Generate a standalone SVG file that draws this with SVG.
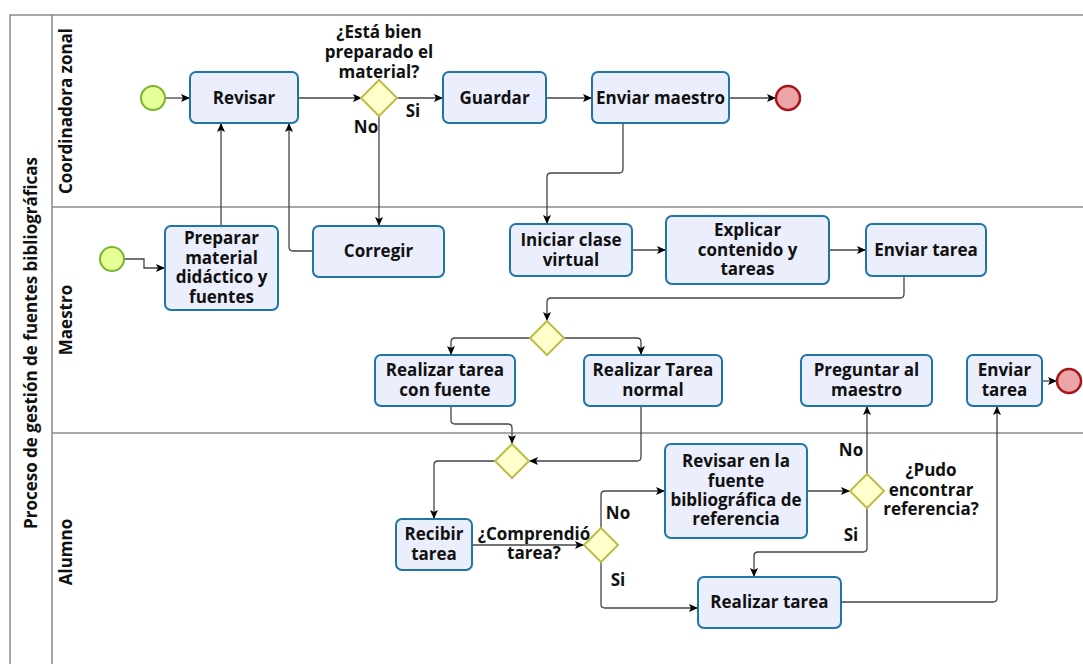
<svg xmlns="http://www.w3.org/2000/svg" width="1083" height="664" viewBox="0 0 1083 664">
  <style>
    .lane { stroke: #8a8a8a; stroke-width: 1.5; fill: none; }
    .task rect { fill: #ebeefc; stroke: #1f74a8; stroke-width: 2; }
    .gw { fill: #ffffcc; stroke: #bdbd4a; stroke-width: 2; }
    .start { fill: #e6ff97; stroke: #7ab52b; stroke-width: 2; }
    .end { fill: #eba5a6; stroke: #a8141a; stroke-width: 2.5; }
    text { font-family: "Open Sans", "Noto Sans", "DejaVu Sans", sans-serif; font-weight: bold; font-size: 17px; fill: #111; text-anchor: middle; }
    .flow path { fill: none; stroke: #444; stroke-width: 1.3; marker-end: url(#arrow); }
  </style>
  <defs>
    <marker id="arrow" markerUnits="userSpaceOnUse" markerWidth="10" markerHeight="10" refX="9" refY="5" orient="auto">
      <path d="M0,1 L9,5 L0,9 L2,5 z" fill="#000"/>
    </marker>
  </defs>

  <rect width="1083" height="664" fill="#fff"/>

  <!-- pool and lanes -->
  <g id="pool">
    <path class="lane" d="M1083,15 H10 V664"/>
    <path class="lane" d="M52,15 V664"/>
    <path class="lane" d="M52,207 H1083"/>
    <path class="lane" d="M52,433 H1083"/>
    <text transform="translate(37,343) rotate(-90)">Proceso de gestión de fuentes bibliográficas</text>
    <text transform="translate(72,111) rotate(-90)">Coordinadora zonal</text>
    <text transform="translate(72,320) rotate(-90)">Maestro</text>
    <text transform="translate(72,552) rotate(-90)">Alumno</text>
  </g>

  <!-- connectors -->
  <g id="connectors" class="flow">
    <path d="M165,98 H190"/>
    <path d="M298,98 H362"/>
    <path d="M397,98 H443"/>
    <path d="M546,98 H592"/>
    <path d="M729,98 H776"/>
    <path d="M379,115 V226"/>
    <path d="M623,123 V169 Q623,173 619,173 H551 Q547,173 547,177 V224"/>
    <path d="M221,226 V123"/>
    <path d="M313,251 H293 Q289,251 289,247 V123"/>
    <path d="M124,259 H144 V268 H165"/>
    <path d="M632,250 H666"/>
    <path d="M829,250 H866"/>
    <path d="M904,276 V294 Q904,298 900,298 H551 Q547,298 547,302 V321"/>
    <path d="M530,338 H455 Q451,338 451,342 V355"/>
    <path d="M564,338 H637 Q641,338 641,342 V355"/>
    <path d="M451,406 V420 Q451,424 455,424 H508 Q512,424 512,428 V444"/>
    <path d="M641,406 V457 Q641,461 637,461 H529"/>
    <path d="M495,461 H438 Q434,461 434,465 V519"/>
    <path d="M472,545 H584"/>
    <path d="M601,528 V495 Q601,491 605,491 H665"/>
    <path d="M601,562 V604 Q601,608 605,608 H698"/>
    <path d="M807,491 H850"/>
    <path d="M867,474 V406"/>
    <path d="M867,508 V548 Q867,552 863,552 H758 Q754,552 754,556 V577"/>
    <path d="M841,602 H993 Q997,602 997,598 V406"/>
    <path d="M1042,381 H1057"/>
  </g>

  <!-- Coordinadora zonal -->
  <g id="start1"><circle class="start" cx="153" cy="98" r="12"/></g>
  <g id="revisar" class="task">
    <rect x="190" y="72" width="108" height="51" rx="6"/>
    <text x="244" y="104">Revisar</text>
  </g>
  <g id="gw-material">
    <path class="gw" d="M379,80 L397,98 L379,116 L361,98 z"/>
    <text x="379" y="38">¿Está bien</text>
    <text x="379" y="58">preparado el</text>
    <text x="379" y="78">material?</text>
    <text x="413" y="117">Si</text>
    <text x="366" y="133">No</text>
  </g>
  <g id="guardar" class="task">
    <rect x="443" y="72" width="103" height="51" rx="6"/>
    <text x="494.5" y="104">Guardar</text>
  </g>
  <g id="enviar-maestro" class="task">
    <rect x="592" y="72" width="137" height="51" rx="6"/>
    <text x="660.5" y="104">Enviar maestro</text>
  </g>
  <g id="end1"><circle class="end" cx="788" cy="98" r="12"/></g>

  <!-- Maestro -->
  <g id="start2"><circle class="start" cx="112" cy="259" r="12"/></g>
  <g id="preparar" class="task">
    <rect x="165" y="226" width="113" height="84" rx="6"/>
    <text x="221.5" y="244">Preparar</text>
    <text x="221.5" y="264">material</text>
    <text x="221.5" y="283">didáctico y</text>
    <text x="221.5" y="303">fuentes</text>
  </g>
  <g id="corregir" class="task">
    <rect x="313" y="226" width="131" height="51" rx="6"/>
    <text x="378.5" y="257">Corregir</text>
  </g>
  <g id="iniciar" class="task">
    <rect x="510" y="224" width="122" height="52" rx="6"/>
    <text x="571" y="246">Iniciar clase</text>
    <text x="571" y="266">virtual</text>
  </g>
  <g id="explicar" class="task">
    <rect x="666" y="216" width="163" height="68" rx="6"/>
    <text x="747.5" y="236">Explicar</text>
    <text x="747.5" y="256">contenido y</text>
    <text x="747.5" y="275">tareas</text>
  </g>
  <g id="enviar-tarea1" class="task">
    <rect x="866" y="224" width="120" height="52" rx="6"/>
    <text x="926" y="256">Enviar tarea</text>
  </g>
  <g id="gw-split"><path class="gw" d="M547,321 L564,338 L547,355 L530,338 z"/></g>
  <g id="tarea-fuente" class="task">
    <rect x="375" y="355" width="140" height="51" rx="6"/>
    <text x="445" y="376">Realizar tarea</text>
    <text x="445" y="396">con fuente</text>
  </g>
  <g id="tarea-normal" class="task">
    <rect x="584" y="355" width="138" height="51" rx="6"/>
    <text x="653" y="376">Realizar Tarea</text>
    <text x="653" y="396">normal</text>
  </g>
  <g id="preguntar" class="task">
    <rect x="801" y="355" width="131" height="51" rx="6"/>
    <text x="866.5" y="376">Preguntar al</text>
    <text x="866.5" y="396">maestro</text>
  </g>
  <g id="enviar-tarea2" class="task">
    <rect x="967" y="355" width="75" height="51" rx="6"/>
    <text x="1004.5" y="376">Enviar</text>
    <text x="1004.5" y="396">tarea</text>
  </g>
  <g id="end2"><circle class="end" cx="1069" cy="381" r="12"/></g>

  <!-- Alumno -->
  <g id="gw-merge"><path class="gw" d="M512,444 L529,461 L512,478 L495,461 z"/></g>
  <g id="recibir" class="task">
    <rect x="396" y="519" width="76" height="51" rx="6"/>
    <text x="434" y="540">Recibir</text>
    <text x="434" y="560">tarea</text>
  </g>
  <g id="gw-comprendio">
    <path class="gw" d="M601,528 L618,545 L601,562 L584,545 z"/>
    <text x="534" y="540">¿Comprendió</text>
    <text x="534" y="559">tarea?</text>
    <text x="618" y="519">No</text>
    <text x="618" y="586">Si</text>
  </g>
  <g id="revisar-fuente" class="task">
    <rect x="665" y="444" width="142" height="94" rx="6"/>
    <text x="736" y="467">Revisar en la</text>
    <text x="736" y="487">fuente</text>
    <text x="736" y="506">bibliográfica de</text>
    <text x="736" y="525">referencia</text>
  </g>
  <g id="gw-pudo">
    <path class="gw" d="M867,474 L884,491 L867,508 L850,491 z"/>
    <text x="931" y="476">¿Pudo</text>
    <text x="931" y="496">encontrar</text>
    <text x="931" y="515">referencia?</text>
    <text x="851" y="456">No</text>
    <text x="851" y="541">Si</text>
  </g>
  <g id="realizar-tarea" class="task">
    <rect x="698" y="577" width="143" height="51" rx="6"/>
    <text x="769.5" y="608">Realizar tarea</text>
  </g>
</svg>
